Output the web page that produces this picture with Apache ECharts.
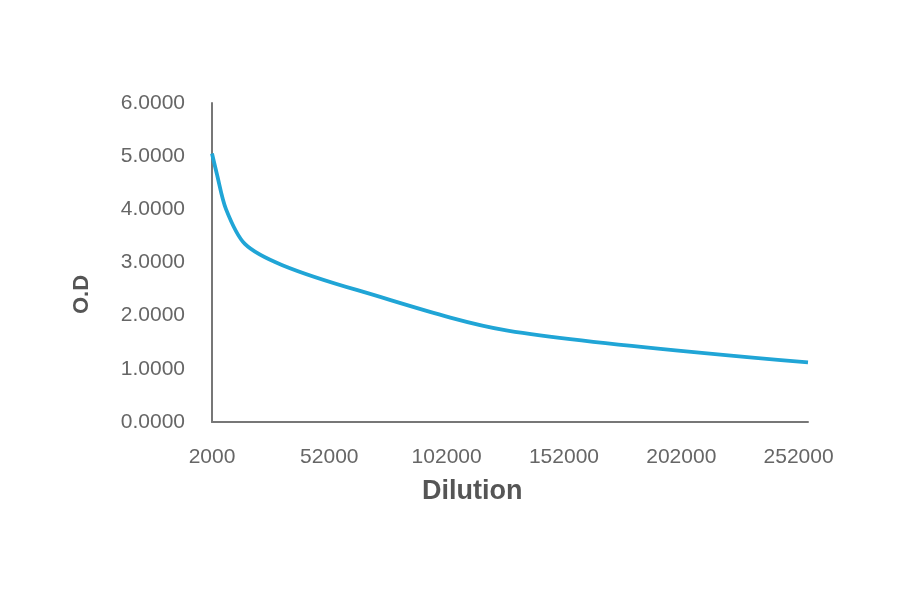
<!DOCTYPE html>
<html>
<head>
<meta charset="utf-8">
<script src="https://cdn.jsdelivr.net/npm/echarts@6/dist/echarts.min.js"></script>
<style>html,body{margin:0;padding:0;background:#fff}#c{width:900px;height:594px}</style>
</head>
<body>
<div id="c"></div>
<script>
const dilutions = [2000, 4000, 8000, 16000, 32000, 64000, 128000, 256000];
const odValues = [5.05, 4.68, 4.0, 3.35, 2.95, 2.48, 1.72, 1.12];
const xTicks = [2000, 52000, 102000, 152000, 202000, 252000];
const yTicks = [0, 1, 2, 3, 4, 5, 6];

const chart = echarts.init(document.getElementById('c'));
const labelStyle = { color: '#666', fontSize: 21, fontFamily: 'Liberation Sans, Arial, sans-serif' };
chart.setOption({
  animation: false,
  grid: { left: 212, right: 92, top: 103, bottom: 172 },
  xAxis: {
    type: 'value', min: 2000, max: 256000, interval: 50000,
    axisLine: { lineStyle: { color: '#777', width: 2 } },
    axisTick: { show: false }, splitLine: { show: false },
    axisLabel: Object.assign({ margin: 25, showMaxLabel: false,
      formatter: v => xTicks.includes(v) ? String(v) : '' }, labelStyle)
  },
  yAxis: {
    type: 'value', min: 0, max: 6, interval: 1,
    axisLine: { show: true, lineStyle: { color: '#777', width: 2 } },
    axisTick: { show: false }, splitLine: { show: false },
    axisLabel: Object.assign({ margin: 27,
      formatter: v => yTicks.includes(v) ? v.toFixed(4) : '' }, labelStyle)
  },
  series: [{
    type: 'line',
    data: dilutions.map((d, i) => [d, odValues[i]]),
    smooth: 0.3, showSymbol: false,
    lineStyle: { color: '#20a5d6', width: 3.8 }
  }],
  graphic: [
    { type: 'text', left: 422, top: 478, style: { text: 'Dilution', fill: '#555', font: 'bold 27px Liberation Sans, Arial, sans-serif' } },
    { type: 'text', x: 71, y: 314, rotation: Math.PI / 2, style: { text: 'O.D', fill: '#555', font: 'bold 22px Liberation Sans, Arial, sans-serif' } }
  ]
});
</script>
</body>
</html>
